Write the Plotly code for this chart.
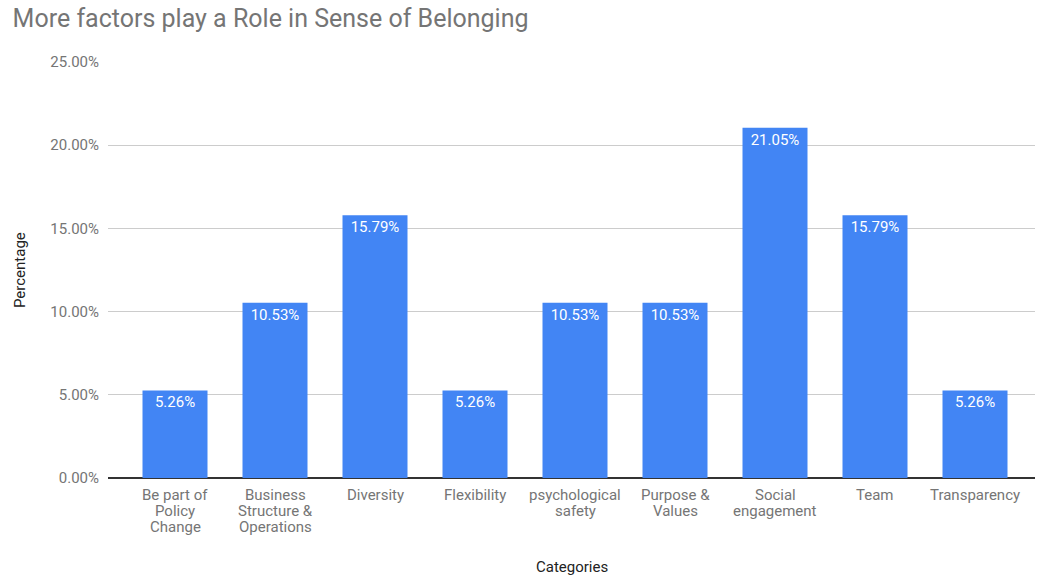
import plotly.graph_objects as go

categories = [
    "Be part of<br>Policy<br>Change",
    "Business<br>Structure &<br>Operations",
    "Diversity",
    "Flexibility",
    "psychological<br>safety",
    "Purpose &<br>Values",
    "Social<br>engagement",
    "Team",
    "Transparency",
]
shares = [0.0526, 0.1053, 0.1579, 0.0526, 0.1053, 0.1053, 0.2105, 0.1579, 0.0526]
y_ticks = [0, 0.05, 0.10, 0.15, 0.20, 0.25]

FONT = "Roboto, Arial, sans-serif"
GREY = "#757575"
LINE_GAP = 16  # px between wrapped category-label lines

positions = list(range(len(categories)))

fig = go.Figure(
    go.Bar(
        x=positions,
        y=shares,
        width=0.65,
        marker=dict(color="#4285F4", line=dict(width=0)),
        texttemplate="%{y:.2%}",
        textposition="inside",
        insidetextanchor="end",
        textangle=0,
        constraintext="none",
        insidetextfont=dict(family=FONT, size=15, color="white"),
        hoverinfo="skip",
    )
)

# Category labels, one annotation per wrapped line for tight line spacing
cat_labels = []
for i, label in enumerate(categories):
    for k, line in enumerate(label.split("<br>")):
        cat_labels.append(
            dict(
                text=line, x=i, xref="x", y=0, yref="paper",
                yshift=-17 - LINE_GAP * k, xanchor="center", yanchor="middle",
                showarrow=False, font=dict(family=FONT, size=15, color=GREY),
            )
        )

fig.update_layout(
    width=1052,
    height=578,
    margin=dict(l=108, r=17, t=62, b=100),
    paper_bgcolor="white",
    plot_bgcolor="white",
    showlegend=False,
    font=dict(family=FONT, color=GREY, size=15),
    title=dict(
        text="More factors play a Role in Sense of Belonging",
        x=0.012, xanchor="left", y=0.968, yanchor="middle",
        font=dict(family=FONT, size=25, color=GREY),
    ),
    xaxis=dict(
        tickvals=positions,
        range=[-0.67, 8.6],
        showgrid=False,
        zeroline=False,
        showline=False,
        ticks="",
        showticklabels=False,
    ),
    yaxis=dict(
        range=[0, 0.25],
        tickvals=y_ticks,
        tickformat=".2%",
        showgrid=True,
        gridcolor="#cccccc",
        gridwidth=1,
        zeroline=True,
        zerolinecolor="#333333",
        zerolinewidth=1.5,
        showline=False,
        ticks="",
        ticklabelstandoff=8,
        tickfont=dict(family=FONT, size=15, color=GREY),
    ),
    annotations=cat_labels + [
        dict(
            text="Percentage", textangle=-90,
            xref="paper", yref="paper", x=0, y=0.5,
            xshift=-88, xanchor="center", yanchor="middle",
            showarrow=False, font=dict(family=FONT, size=15, color="#222222"),
        ),
        dict(
            text="Categories",
            xref="paper", yref="paper", x=0.5, y=0,
            yshift=-89, xanchor="center", yanchor="middle",
            showarrow=False, font=dict(family=FONT, size=15, color="#222222"),
        ),
    ],
)

fig.write_html("out.html")
